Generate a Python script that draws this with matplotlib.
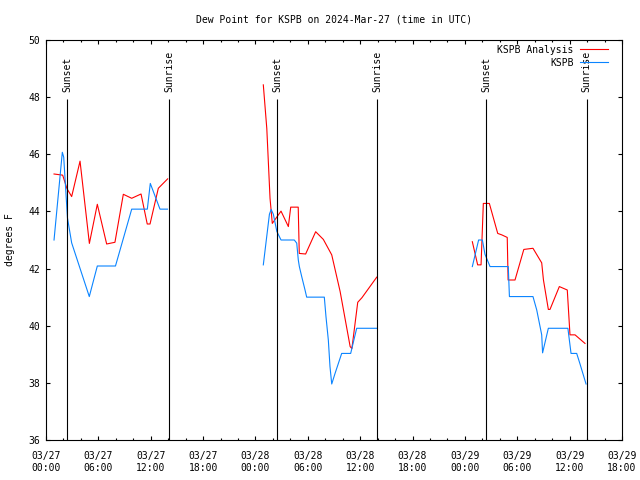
import numpy as np
import pandas as pd
import matplotlib
matplotlib.use("Agg")
import matplotlib.pyplot as plt
import matplotlib.dates as mdates

plt.rcParams['font.family'] = ['DejaVu Sans Mono']
plt.rcParams['font.size'] = 7

start = pd.Timestamp("2024-03-27 00:00")

# hours after 03/27 00:00 UTC, one list per night
analysis_hours = [
    [0.92, 1.91, 2.4, 2.94, 3.90, 4.97, 5.88, 6.95, 7.90, 8.86, 9.82, 10.89, 11.60, 11.92, 12.87, 13.94],
    [24.90, 25.3, 25.67, 25.93, 26.93, 27.77, 28.04, 28.90, 29.02, 29.75, 30.90, 31.78, 32.74, 33.70,
     34.85, 35.05, 35.72, 36.20, 37.90],
    [48.85, 49.46, 49.85, 50.11, 50.80, 51.76, 52.22, 52.85, 52.95, 53.74, 54.75, 55.80, 56.80, 57.00,
     57.56, 57.75, 58.82, 59.73, 60.04, 60.62, 61.76],
]
analysis_dewpt = [
    [45.31, 45.27, 44.8, 44.52, 45.76, 42.88, 44.25, 42.86, 42.92, 44.60, 44.46, 44.61, 43.56, 43.56, 44.81, 45.14],
    [48.43, 46.9, 44.46, 43.58, 44.01, 43.47, 44.15, 44.15, 42.53, 42.51, 43.29, 43.02, 42.48, 41.20,
     39.27, 39.20, 40.82, 40.98, 41.70],
    [42.94, 42.13, 42.13, 44.28, 44.28, 43.23, 43.18, 43.09, 41.60, 41.60, 42.67, 42.71, 42.20, 41.60,
     40.57, 40.57, 41.37, 41.25, 39.68, 39.68, 39.38],
]

obs_hours = [
    [0.92, 1.87, 2.03, 2.46, 2.94, 4.96, 5.88, 7.96, 9.82, 11.61, 11.95, 13.06, 13.92],
    [24.90, 25.6, 25.80, 26.05, 26.45, 26.93, 28.45, 28.73, 28.91, 29.03, 29.30, 29.68, 29.87, 31.89,
     32.08, 32.35, 32.54, 32.74, 33.12, 33.88, 34.91, 35.60, 37.96],
    [48.85, 49.57, 50.0, 50.3, 50.88, 52.97, 53.10, 55.80, 56.23, 56.61, 56.80, 56.90, 57.56, 59.80,
     60.16, 60.81, 61.19, 61.88],
]
obs_dewpt = [
    [43.00, 46.07, 45.90, 43.77, 42.90, 41.02, 42.09, 42.09, 44.08, 44.08, 44.98, 44.08, 44.08],
    [42.13, 43.90, 44.07, 43.90, 43.30, 43.00, 43.00, 42.89, 42.30, 42.07, 41.72, 41.25, 41.00, 41.00,
     40.32, 39.50, 38.57, 37.96, 38.33, 39.03, 39.03, 39.91, 39.91],
    [42.07, 43.00, 43.00, 42.50, 42.07, 42.07, 41.02, 41.02, 40.55, 39.97, 39.68, 39.05, 39.91, 39.91,
     39.03, 39.03, 38.66, 37.96],
]

sunset_hours = [2.45, 26.47, 50.45]
sunrise_hours = [14.10, 37.98, 61.96]


def to_time(hours):
    return start + pd.to_timedelta(np.array(hours), unit="h")


fig = plt.figure(figsize=(6.4, 4.8), dpi=100)
ax = fig.add_axes([46 / 640, 40 / 480, 576 / 640, 400 / 480])

for i in range(3):
    ax.plot(to_time(analysis_hours[i]), analysis_dewpt[i], color="#ff0000", lw=0.8,
            label="KSPB Analysis" if i == 0 else None)
for i in range(3):
    ax.plot(to_time(obs_hours[i]), obs_dewpt[i], color="#0a84ff", lw=0.8,
            label="KSPB" if i == 0 else None)

for hours, name in [(sunset_hours, "Sunset"), (sunrise_hours, "Sunrise")]:
    for t in to_time(hours):
        ax.vlines(t, 36, 47.95, color="black", lw=0.8)
        ax.text(t, 48.18, name, rotation=90, ha="center", va="bottom")

ax.set_xlim(start, start + pd.Timedelta(hours=66))
ax.set_ylim(36, 50)
ax.set_yticks(np.arange(36, 51, 2))
ax.xaxis.set_major_locator(mdates.HourLocator(byhour=range(0, 24, 6)))
ax.xaxis.set_minor_locator(mdates.HourLocator(byhour=range(0, 24, 2)))
ax.xaxis.set_major_formatter(mdates.DateFormatter("%m/%d\n%H:%M"))
ax.tick_params(which="both", direction="in", top=True, right=True, width=0.8)
ax.tick_params(which="major", length=3.2)
ax.tick_params(which="minor", length=1.7)
ax.tick_params(axis="y", pad=4.3)
ax.tick_params(axis="x", pad=8)
for s in ax.spines.values():
    s.set_linewidth(0.8)

ax.legend(loc="upper right", markerfirst=False, frameon=False, handlelength=2.9,
          handletextpad=0.7, labelspacing=0.3, borderaxespad=0.2, borderpad=0.3,
          bbox_to_anchor=(0.985, 1.0))

fig.text(334 / 640, 1 - 19 / 480, "Dew Point for KSPB on 2024-Mar-27 (time in UTC)",
         ha="center", va="center")
fig.text(10 / 640, 0.5, "degrees F", rotation=90, ha="center", va="center")

fig.savefig("out.png", dpi=100)
